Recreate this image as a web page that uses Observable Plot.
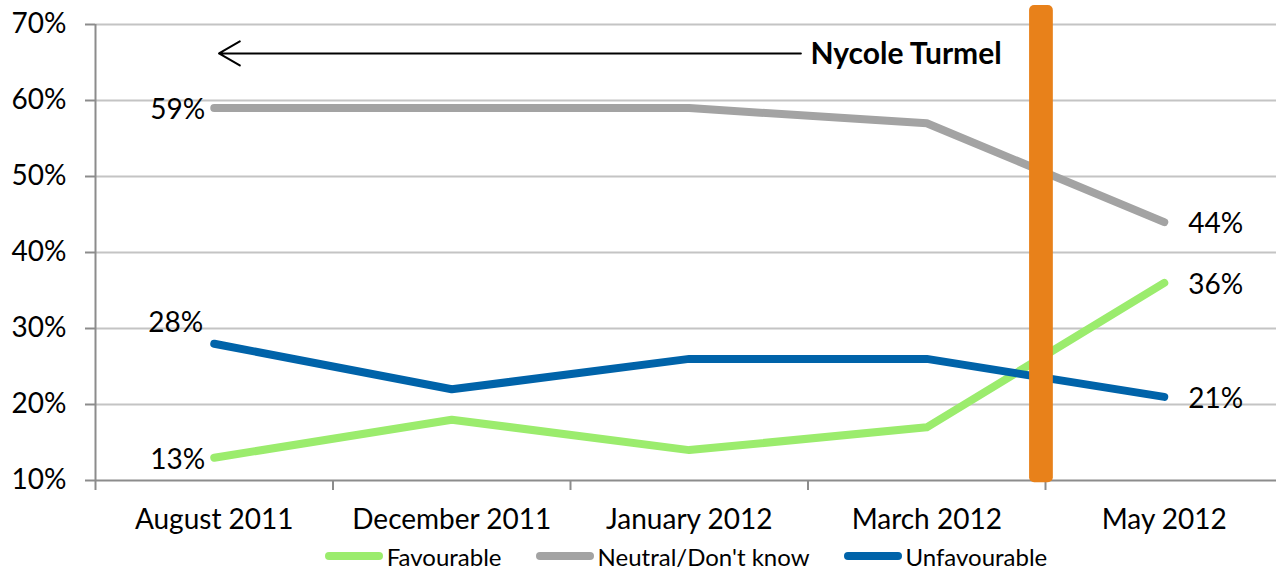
<!DOCTYPE html>
<html><head><meta charset="utf-8">
<script src="https://cdn.jsdelivr.net/npm/d3@7"></script>
<script src="https://cdn.jsdelivr.net/npm/@observablehq/plot@0.6"></script>
<style>
html,body{margin:0;padding:0;background:#fff;}
body{font-family:Lato,"Open Sans",sans-serif;width:1276px;height:570px;overflow:hidden;}
#legend{display:flex;justify-content:center;align-items:center;height:32px;font-size:24px;color:#000;gap:34px;padding-left:96px;}
#legend .item{display:flex;align-items:center;}
#legend .sw{display:inline-block;width:58px;height:8px;border-radius:4px;margin-right:4px;}
</style></head><body>
<div id="chart"></div>
<div id="legend"></div>
<script>
const categories = ["August 2011","December 2011","January 2012","March 2012","May 2012"];
const favourable = [13,18,14,17,36];
const neutral = [59,59,59,57,44];
const unfavourable = [28,22,26,26,21];
const seriesNames = ["Favourable","Neutral/Don't know","Unfavourable"];
const seriesColors = ["#9bec6d","#a3a3a3","#0063a9"];
const yTicks = [10,20,30,40,50,60,70];
const annotationText = "Nycole Turmel";
// annotation positions in data units (x = category index, y = percent)
const turmelMarkerX = 3.483;
const arrowFromX = 2.47, arrowToX = 0.02, arrowY = 66.2;

const seriesValues = [favourable, neutral, unfavourable];
const rows = [];
seriesNames.forEach((s, k) => seriesValues[k].forEach((v, i) => rows.push({series: s, i, value: v})));
const first = rows.filter(d => d.i === 0);
const last = rows.filter(d => d.i === categories.length - 1);
const boundaries = d3.range(-0.5, categories.length, 1);
const idx = d3.range(categories.length);

const chart = Plot.plot({
  width: 1276,
  height: 540,
  marginTop: 24,
  marginBottom: 60,
  marginLeft: 95,
  marginRight: 0,
  style: {fontFamily: "Lato, 'Open Sans', sans-serif", background: "#fff", overflow: "visible"},
  x: {type: "linear", domain: [-0.5, categories.length - 0.5], range: [95, 1282.5], axis: null},
  y: {domain: [10, 70], range: [480, 24], axis: null},
  color: {domain: seriesNames, range: seriesColors},
  marks: [
    Plot.ruleY(yTicks.filter(t => t > 10), {stroke: "#c4c4c4", strokeWidth: 2}),
    Plot.ruleX([-0.5], {y1: 10, y2: 70, stroke: "#8c8c8c", strokeWidth: 2}),
    Plot.ruleY([10], {stroke: "#8c8c8c", strokeWidth: 2}),
    Plot.axisY(yTicks, {anchor: "left", label: null, tickSize: 10, tickPadding: 19, tickFormat: d => d + "%", fontSize: 28, stroke: "#8c8c8c", strokeWidth: 2, fill: "#000"}),
    Plot.axisX(boundaries, {anchor: "bottom", label: null, tickSize: 10, tickFormat: () => "", stroke: "#8c8c8c", strokeWidth: 2}),
    Plot.axisX(idx, {anchor: "bottom", label: null, tickSize: 0, tickPadding: 29, tickFormat: i => categories[i], fontSize: 28, fill: "#000"}),
    Plot.line(rows, {x: "i", y: "value", z: "series", stroke: "series", strokeWidth: 8, strokeLinecap: "round", strokeLinejoin: "round"}),
    Plot.text(first.filter(d => d.series !== "Unfavourable"), {x: "i", y: "value", text: d => d.value + "%", textAnchor: "end", dx: -9, dy: 2, fontSize: 28, fill: "#000"}),
    Plot.text(first.filter(d => d.series === "Unfavourable"), {x: "i", y: "value", text: d => d.value + "%", textAnchor: "end", dx: -11, dy: -21, fontSize: 28, fill: "#000"}),
    Plot.text(last, {x: "i", y: "value", text: d => d.value + "%", textAnchor: "start", dx: 24, dy: 2, fontSize: 28, fill: "#000"}),
    Plot.rect([turmelMarkerX], {x1: d => d - 0.05, x2: d => d + 0.05, y1: 9.7, y2: 72.5, fill: "#e8811a", rx: 5}),
    Plot.arrow([0], {x1: arrowFromX, x2: arrowToX, y1: arrowY, y2: arrowY, stroke: "#000", strokeWidth: 2, headLength: 18, headAngle: 60, bend: 0}),
    Plot.text([annotationText], {x: arrowFromX + 0.04, y: arrowY, text: d => d, textAnchor: "start", fontSize: 30, fontWeight: "bold", fill: "#000", dy: 1})
  ]
});
document.getElementById("chart").appendChild(chart);

const legend = d3.select("#legend");
seriesNames.forEach((s, k) => {
  const it = legend.append("div").attr("class", "item");
  it.append("span").attr("class", "sw").style("background", seriesColors[k]);
  it.append("span").text(s);
});
</script>
</body></html>
